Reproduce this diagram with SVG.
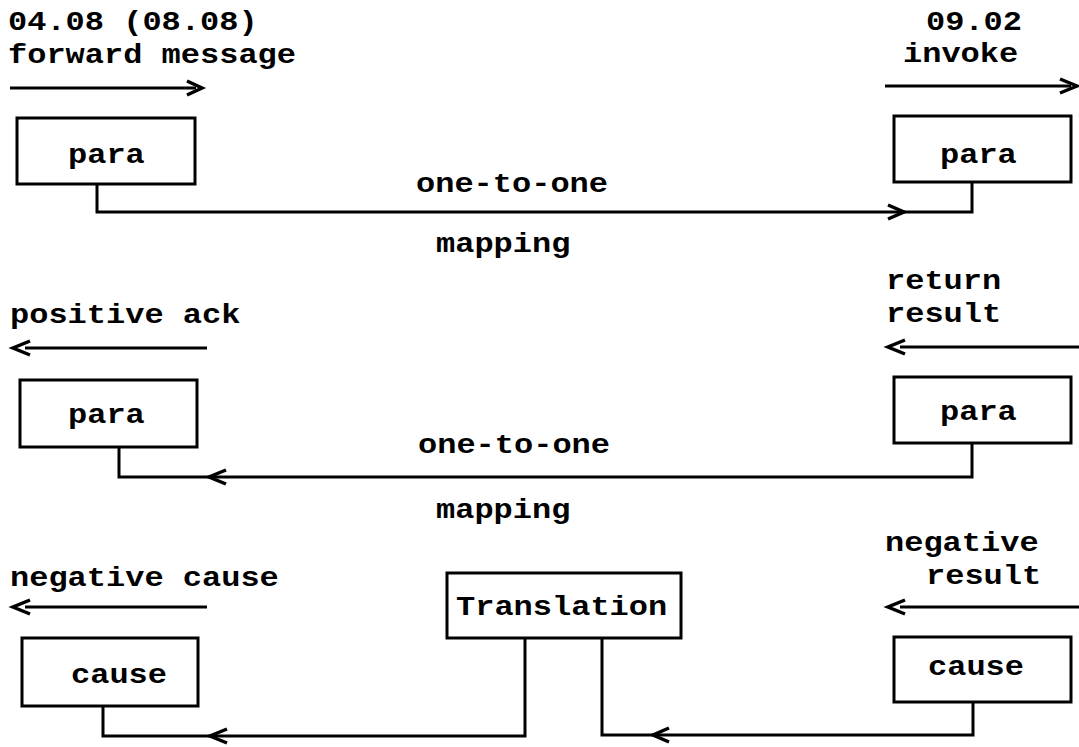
<svg xmlns="http://www.w3.org/2000/svg" width="1079" height="747" viewBox="0 0 1079 747">
<style>
text{font-family:"Liberation Mono","Courier New",monospace;font-weight:bold;font-size:28px;fill:#000}
.box{fill:#fff;stroke:#000;stroke-width:3}
.ln{fill:none;stroke:#000;stroke-width:3;stroke-linejoin:miter}
.chev{fill:none;stroke:#000;stroke-width:3.5;stroke-linejoin:miter}
</style>
<rect width="1079" height="747" fill="#fff"/>
<g id="labels">
<text x="8" y="30" textLength="249.6" lengthAdjust="spacingAndGlyphs">04.08 (08.08)</text>
<text x="8" y="63" textLength="288" lengthAdjust="spacingAndGlyphs">forward message</text>
<text x="926" y="30" textLength="96" lengthAdjust="spacingAndGlyphs">09.02</text>
<text x="903" y="62" textLength="115.2" lengthAdjust="spacingAndGlyphs">invoke</text>
<text x="416" y="192" textLength="192" lengthAdjust="spacingAndGlyphs">one-to-one</text>
<text x="436" y="252" textLength="134.4" lengthAdjust="spacingAndGlyphs">mapping</text>
<text x="10" y="323" textLength="230.4" lengthAdjust="spacingAndGlyphs">positive ack</text>
<text x="886" y="289" textLength="115.2" lengthAdjust="spacingAndGlyphs">return</text>
<text x="886" y="322" textLength="115.2" lengthAdjust="spacingAndGlyphs">result</text>
<text x="418" y="453" textLength="192" lengthAdjust="spacingAndGlyphs">one-to-one</text>
<text x="436" y="518" textLength="134.4" lengthAdjust="spacingAndGlyphs">mapping</text>
<text x="10" y="586" textLength="268.8" lengthAdjust="spacingAndGlyphs">negative cause</text>
<text x="885" y="551" textLength="153.6" lengthAdjust="spacingAndGlyphs">negative</text>
<text x="926" y="584" textLength="115.2" lengthAdjust="spacingAndGlyphs">result</text>
</g>
<g id="para1"><rect class="box" x="17" y="118" width="178" height="66"/><text x="68" y="163" textLength="76.8" lengthAdjust="spacingAndGlyphs">para</text></g>
<g id="para2"><rect class="box" x="894" y="116" width="177" height="66"/><text x="940" y="163" textLength="76.8" lengthAdjust="spacingAndGlyphs">para</text></g>
<g id="para3"><rect class="box" x="20" y="380" width="177" height="67"/><text x="68" y="423" textLength="76.8" lengthAdjust="spacingAndGlyphs">para</text></g>
<g id="para4"><rect class="box" x="894" y="377" width="177" height="66"/><text x="940" y="420" textLength="76.8" lengthAdjust="spacingAndGlyphs">para</text></g>
<g id="translation"><rect class="box" x="447" y="573" width="234" height="65"/><text x="456" y="615" textLength="211.2" lengthAdjust="spacingAndGlyphs">Translation</text></g>
<g id="cause1"><rect class="box" x="22" y="638" width="176" height="68"/><text x="71" y="683" textLength="96" lengthAdjust="spacingAndGlyphs">cause</text></g>
<g id="cause2"><rect class="box" x="894" y="637" width="177" height="65"/><text x="928" y="675" textLength="96" lengthAdjust="spacingAndGlyphs">cause</text></g>
<g id="connectors">
<path class="ln" d="M10,88 H196"/><path class="chev" d="M187,81 L202,88 L187,95"/>
<path class="ln" d="M885,86 H1071"/><path class="chev" d="M1060,79 L1077,86 L1060,93"/>
<path class="ln" d="M97,184 V212 H972 V182"/><path class="chev" d="M888,205 L904,212 L888,219"/>
<path class="ln" d="M25,348 H207"/><path class="chev" d="M30,341 L13,348 L30,355"/>
<path class="ln" d="M900,347 H1079"/><path class="chev" d="M905,340 L888,347 L905,354"/>
<path class="ln" d="M119,447 V477 H972 V443"/><path class="chev" d="M226,470 L209,477 L226,484"/>
<path class="ln" d="M25,607 H207"/><path class="chev" d="M30,600 L13,607 L30,614"/>
<path class="ln" d="M900,607 H1079"/><path class="chev" d="M905,600 L888,607 L905,614"/>
<path class="ln" d="M103,706 V736 H525 V638"/><path class="chev" d="M227,729 L210,736 L227,743"/>
<path class="ln" d="M602,638 V735 H973 V702"/><path class="chev" d="M669,728 L653,735 L669,742"/>
</g>
</svg>
